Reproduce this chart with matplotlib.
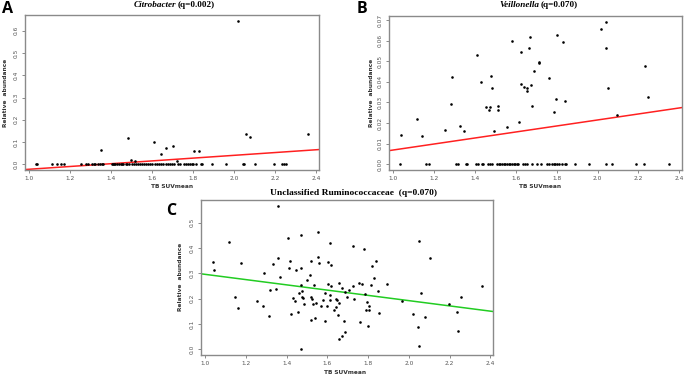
import matplotlib
matplotlib.use("Agg")
import matplotlib.pyplot as plt
import numpy as np

# ---------------- data ----------------
# Panel A: Citrobacter
a_x_zero = [1.035, 1.040, 1.112, 1.137, 1.157, 1.171, 1.251, 1.279, 1.285, 1.308, 1.315,
            1.322, 1.334, 1.345, 1.355, 1.360, 1.405, 1.410, 1.415, 1.420, 1.430, 1.440,
            1.447, 1.455, 1.460, 1.470, 1.475, 1.485, 1.500, 1.510, 1.520, 1.530, 1.540,
            1.550, 1.560, 1.570, 1.580, 1.590, 1.600, 1.615, 1.625, 1.635, 1.645, 1.655,
            1.665, 1.675, 1.685, 1.695, 1.705, 1.725, 1.735, 1.755, 1.765, 1.775, 1.785,
            1.795, 1.800, 1.815, 1.840, 1.845, 1.890, 1.958, 2.041, 2.047, 2.099, 2.194,
            2.231, 2.240, 2.251]
a_x_pos = [1.352, 1.480, 1.495, 1.518, 1.610, 1.643, 1.667, 1.702, 1.721, 1.806, 1.830,
           2.019, 2.056, 2.078, 2.358]
a_y_pos = [0.063, 0.120, 0.021, 0.0135, 0.098, 0.045, 0.072, 0.083, 0.0135, 0.060, 0.059,
           0.645, 0.138, 0.123, 0.137]
a_line = (-0.0227, 0.0627)   # value at SUV=1.0, slope

# Panel B: Veillonella
b_x_zero = [1.035, 1.161, 1.176, 1.310, 1.319, 1.356, 1.363, 1.405, 1.415, 1.434, 1.440,
            1.465, 1.473, 1.484, 1.508, 1.516, 1.524, 1.532, 1.540, 1.548, 1.556, 1.565,
            1.573, 1.581, 1.589, 1.597, 1.605, 1.613, 1.634, 1.645, 1.653, 1.679, 1.702,
            1.724, 1.753, 1.761, 1.777, 1.785, 1.794, 1.802, 1.810, 1.826, 1.842, 1.847,
            1.889, 1.956, 2.039, 2.073, 2.187, 2.226, 2.350]
b_x_pos = [1.040, 1.118, 1.142, 1.255, 1.281, 1.289, 1.329, 1.347, 1.411, 1.432, 1.452,
           1.468, 1.476, 1.481, 1.482, 1.495, 1.511, 1.515, 1.555, 1.582, 1.615, 1.626,
           1.626, 1.642, 1.653, 1.653, 1.666, 1.668, 1.673, 1.681, 1.689, 1.716, 1.716,
           1.761, 1.787, 1.798, 1.803, 1.829, 1.842, 2.015, 2.040, 2.040, 2.052, 2.095,
           2.232, 2.245]
b_y_pos = [0.0143, 0.0222, 0.0135, 0.0164, 0.0291, 0.0424, 0.0188, 0.0161, 0.0531, 0.0400,
           0.0278, 0.0265, 0.0276, 0.0427, 0.0371, 0.0162, 0.0265, 0.0284, 0.0181, 0.0597,
           0.0207, 0.0546, 0.0389, 0.0377, 0.0369, 0.0358, 0.0563, 0.0620, 0.0385, 0.0281,
           0.0454, 0.0499, 0.0490, 0.0421, 0.0255, 0.0315, 0.0629, 0.0592, 0.0305, 0.0658,
           0.0692, 0.0563, 0.0371, 0.0241, 0.0478, 0.0329]
b_line = (0.0069, 0.0146)

# Panel C: Unclassified Ruminococcaceae
c_x = [1.358, 1.119, 1.037, 1.043, 1.176, 1.145, 1.163, 1.255, 1.283, 1.312, 1.291, 1.334,
       1.358, 1.366, 1.321, 1.348, 1.407, 1.417, 1.413, 1.448, 1.433, 1.440, 1.423, 1.456,
       1.470, 1.555, 1.615, 1.724, 1.780, 1.472, 1.518, 1.553, 1.560, 1.605, 1.619, 1.516,
       1.501, 1.472, 1.537, 1.605, 1.619, 1.657, 1.672, 1.706, 1.724, 1.755, 1.770, 1.812,
       1.829, 1.817, 1.837, 1.895, 1.848, 1.478, 1.460, 1.477, 1.483, 1.486, 1.519, 1.524,
       1.532, 1.545, 1.568, 1.578, 1.589, 1.600, 1.613, 1.615, 1.641, 1.646, 1.657, 1.641,
       1.635, 1.651, 1.695, 1.685, 1.731, 1.785, 1.795, 1.803, 1.806, 1.791, 1.853, 1.522,
       1.540, 1.589, 1.680, 1.758, 1.799, 1.687, 1.674, 1.657, 1.470, 2.050, 2.104, 2.361,
       2.061, 2.255, 1.965, 2.198, 2.022, 2.081, 2.237, 2.046, 2.242, 2.050]
c_y = [0.567, 0.423, 0.343, 0.314, 0.342, 0.207, 0.163, 0.191, 0.170, 0.131, 0.302, 0.338,
       0.360, 0.285, 0.235, 0.237, 0.441, 0.350, 0.322, 0.314, 0.202, 0.191, 0.139, 0.149,
       0.452, 0.463, 0.418, 0.408, 0.397, 0.321, 0.348, 0.364, 0.342, 0.344, 0.332, 0.294,
       0.273, 0.252, 0.252, 0.256, 0.248, 0.261, 0.243, 0.235, 0.248, 0.261, 0.256, 0.252,
       0.282, 0.328, 0.347, 0.258, 0.232, 0.232, 0.224, 0.208, 0.203, 0.179, 0.206, 0.198,
       0.179, 0.184, 0.171, 0.194, 0.224, 0.171, 0.194, 0.216, 0.198, 0.196, 0.181, 0.166,
       0.156, 0.135, 0.206, 0.227, 0.197, 0.219, 0.186, 0.170, 0.156, 0.153, 0.144, 0.115,
       0.125, 0.112, 0.112, 0.106, 0.092, 0.067, 0.053, 0.041, 0.000, 0.426, 0.359, 0.248,
       0.222, 0.208, 0.191, 0.179, 0.141, 0.129, 0.148, 0.088, 0.070, 0.012]
c_line = (0.296, -0.104)

x_ticks = [1.0, 1.2, 1.4, 1.6, 1.8, 2.0, 2.2, 2.4]
a_yticks = [0.0, 0.1, 0.2, 0.3, 0.4, 0.5, 0.6]
b_yticks = [0.00, 0.01, 0.02, 0.03, 0.04, 0.05, 0.06, 0.07]
c_yticks = [0.0, 0.1, 0.2, 0.3, 0.4, 0.5]

# ---------------- figure ----------------
W, H = 685, 378
fig = plt.figure(figsize=(W / 100, H / 100), dpi=100)
fig.patch.set_facecolor("white")


def rect(l, t, r, b):
    return [l / W, 1 - b / H, (r - l) / W, (b - t) / H]


def panel(r, xs, ys, line, color, yticks, yfmt, ylim):
    ax = fig.add_axes(rect(*r))
    ax.scatter(xs, ys, s=3.5, c="black", marker="o", linewidths=0, zorder=3)
    xlim = (0.98, 2.413)
    xl = np.array(xlim)
    ax.plot(xl, line[0] + line[1] * (xl - 1.0), color=color, lw=1.1, zorder=2)
    ax.set_xlim(*xlim)
    ax.set_ylim(*ylim)
    ax.set_xticks(x_ticks)
    ax.set_xticklabels([f"{t:.1f}" for t in x_ticks])
    ax.set_yticks(yticks)
    ax.set_yticklabels([yfmt.format(t) for t in yticks], rotation=90, va="center")
    for s in ax.spines.values():
        s.set_color("#8a8a8a")
        s.set_linewidth(1.0)
    ax.tick_params(axis="both", labelsize=4.2, colors="#8a8a8a", labelcolor="#555555",
                   length=2.5, width=0.7, pad=2)
    ax.set_facecolor("white")
    return ax


axA = panel((25, 15, 319, 170), a_x_zero + a_x_pos, [0.0] * len(a_x_zero) + a_y_pos,
            a_line, "#ff2020", a_yticks, "{:.1f}", (-0.026, 0.671))
axB = panel((389, 16, 682, 170), b_x_zero + b_x_pos, [0.0] * len(b_x_zero) + b_y_pos,
            b_line, "#ff2020", b_yticks, "{:.2f}", (-0.0028, 0.0720))
axC = panel((201, 200, 493, 355), c_x, c_y, c_line, "#22cc22", c_yticks, "{:.1f}",
            (-0.023, 0.590))

serif = ["Liberation Serif", "DejaVu Serif"]

# titles
fig.text(176 / W, 1 - 5 / H, "Citrobacter", fontsize=6.6, ha="right", va="center",
         weight="bold", style="italic", family=serif)
fig.text(178 / W, 1 - 5 / H, "(q=0.002)", fontsize=6.6, ha="left", va="center",
         weight="bold", family=serif)
fig.text(539 / W, 1 - 5 / H, "Veillonella", fontsize=6.6, ha="right", va="center",
         weight="bold", style="italic", family=serif)
fig.text(541 / W, 1 - 5 / H, "(q=0.070)", fontsize=6.6, ha="left", va="center",
         weight="bold", family=serif)
fig.text(354 / W, 1 - 193 / H, "Unclassified Ruminococcaceae  (q=0.070)", fontsize=6.8,
         ha="center", va="center", weight="bold", family=serif)

# axis labels
for (x, y) in [(172, 187), (540, 187), (345, 373)]:
    fig.text(x / W, 1 - y / H, "TB SUVmean", fontsize=4.2, ha="center", va="center",
             weight="bold", color="#333333")
for (x, y) in [(6, 93), (371, 93), (181, 277)]:
    fig.text(x / W, 1 - y / H, "Relative  abundance", fontsize=4.2, ha="center",
             va="center", weight="bold", rotation=90, color="#333333")

# panel letters
for (x, y, s) in [(8, 9, "A"), (362, 9, "B"), (171, 211, "C")]:
    fig.text(x / W, 1 - y / H, s, fontsize=11.5, ha="center", va="center", weight="bold",
             family=["Open Sans", "DejaVu Sans"])

fig.savefig("out.png", dpi=100)
